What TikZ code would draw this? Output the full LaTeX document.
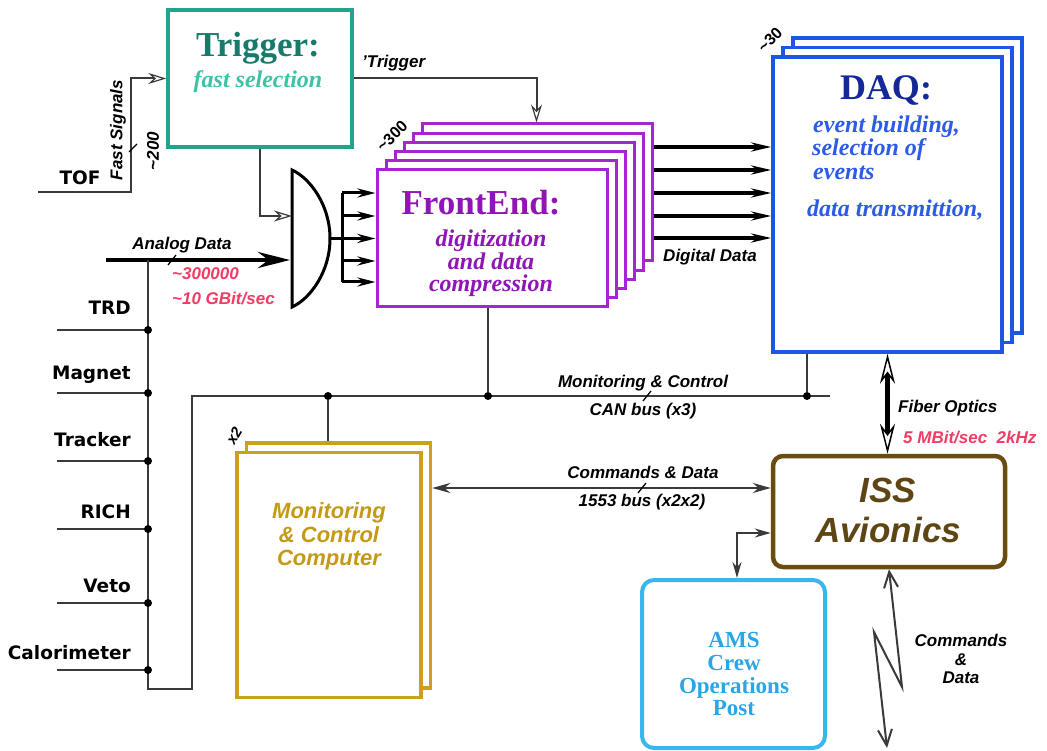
\documentclass[tikz,border=0pt]{standalone}
\usepackage{fontspec}
\setmainfont{Liberation Serif}
\setsansfont{Liberation Sans}
\newfontfamily\dejavu{DejaVu Sans}
\usetikzlibrary{arrows.meta,calc}
\newcommand\myfs[1]{\fontsize{#1}{#1}\selectfont}
\definecolor{tealbox}{HTML}{20A58C}
\definecolor{tealtitle}{HTML}{177A6B}
\definecolor{tealsub}{HTML}{3CC3A5}
\definecolor{purpbox}{HTML}{A526D0}
\definecolor{purptext}{HTML}{9015B5}
\definecolor{bluebox}{HTML}{1F55E6}
\definecolor{bluetitle}{HTML}{15289A}
\definecolor{bluesub}{HTML}{2C5CE6}
\definecolor{goldc}{HTML}{C9A21A}
\definecolor{goldtext}{HTML}{C49A14}
\definecolor{brownc}{HTML}{6A4B12}
\definecolor{browntext}{HTML}{5E4514}
\definecolor{lbluec}{HTML}{38B6F0}
\definecolor{lbluetext}{HTML}{2AA5E6}
\definecolor{redc}{HTML}{F03C64}
\definecolor{wirec}{HTML}{3A3A3A}
\begin{document}
\begin{tikzpicture}[x=1pt,y=-1pt,
  txt/.style={inner sep=0pt, anchor=base},
  lbl/.style={txt, font=\sffamily\bfseries\itshape\myfs{17}},
  redlbl/.style={lbl, text=redc, anchor=base west},
  det/.style={inner sep=0pt, anchor=base east, font=\dejavu\bfseries\myfs{18.5}},
  wire/.style={draw=wirec, line width=2pt},
  heavy/.style={draw=black, line width=3.5pt},
  dot/.style={circle, fill=black, inner sep=0pt, minimum size=8pt},
  tick/.style={draw=black, line width=1.3pt},
  openhead/.style={-{Stealth[length=18pt,width=11pt,fill=white,line width=1.2pt]}},
  fillhead/.style={-{Stealth[length=18pt,width=9pt]}},
  barb/.style={{Straight Barb[length=16pt,width=14pt]}-{Straight Barb[length=16pt,width=14pt]}},
  trigbox/.style={draw=tealbox, line width=3.5pt, fill=white, minimum width=184pt, minimum height=137pt, inner sep=0pt},
  febox/.style={draw=purpbox, line width=3pt, fill=white, minimum width=230pt, minimum height=137pt, inner sep=0pt},
  daqbox/.style={draw=bluebox, line width=3.5pt, fill=white, minimum width=229pt, minimum height=295pt, inner sep=0pt},
  mccbox/.style={draw=goldc, line width=3.5pt, fill=white, minimum width=184pt, minimum height=245pt, inner sep=0pt},
  issbox/.style={draw=brownc, line width=4.5pt, fill=white, rounded corners=10pt, minimum width=232pt, minimum height=111pt, inner sep=0pt},
  amsbox/.style={draw=lbluec, line width=4pt, fill=white, rounded corners=12pt, minimum width=183pt, minimum height=168pt, inner sep=0pt}
]
\useasboundingbox (0,0) rectangle (1047,751);

% ---------- Trigger ----------
\node[trigbox] (trig) at (260,78.5) {};
\node[txt, font=\rmfamily\bfseries\myfs{35}, text=tealtitle] (trigT) at (258,57) {Trigger:};
\node[txt, font=\rmfamily\bfseries\itshape\myfs{24}, text=tealsub] (trigS) at (258,88) {fast selection};

% ---------- FrontEnd stack ----------
\foreach \k in {5,4,3,2,1} { \node[febox] (fe\k) at ({492+9*\k},{238.5-9.2*\k}) {}; }
\node[febox] (fe) at (492,238.5) {};
\node[txt, font=\rmfamily\bfseries\myfs{35}, text=purptext] (feT) at (481,215) {FrontEnd:};
\node[txt, font=\rmfamily\bfseries\itshape\myfs{24}, text=purptext] (feS1) at (491,247) {digitization};
\node[txt, font=\rmfamily\bfseries\itshape\myfs{24}, text=purptext] (feS2) at (491,270) {and data};
\node[txt, font=\rmfamily\bfseries\itshape\myfs{24}, text=purptext] (feS3) at (491,292) {compression};
\node[lbl, anchor=center, rotate=45, font=\sffamily\bfseries\myfs{16}] (fen) at (392,136) {\textasciitilde300};

% ---------- DAQ stack ----------
\foreach \k in {2,1} { \node[daqbox] (daq\k) at ({887.5+10*\k},{204.5-9.5*\k}) {}; }
\node[daqbox] (daq) at (887.5,204.5) {};
\node[txt, font=\rmfamily\bfseries\myfs{36}, text=bluetitle] (daqT) at (886,100) {DAQ:};
\node[txt, anchor=base west, font=\rmfamily\bfseries\itshape\myfs{24}, text=bluesub] (daqS1) at (813,133) {event building,};
\node[txt, anchor=base west, font=\rmfamily\bfseries\itshape\myfs{24}, text=bluesub] (daqS2) at (812,156) {selection of};
\node[txt, anchor=base west, font=\rmfamily\bfseries\itshape\myfs{24}, text=bluesub] (daqS3) at (813,180) {events};
\node[txt, anchor=base west, font=\rmfamily\bfseries\itshape\myfs{24}, text=bluesub] (daqS4) at (807,217) {data transmittion,};
\node[lbl, anchor=center, rotate=45, font=\sffamily\bfseries\myfs{16}] (daqn) at (770,40) {\textasciitilde30};

% ---------- MCC ----------
\node[mccbox] (mccb) at (338.5,565.5) {};
\node[mccbox] (mcc) at (329,575) {};
\node[txt, font=\sffamily\bfseries\itshape\myfs{22}, text=goldtext] (mccT1) at (329,518) {Monitoring};
\node[txt, font=\sffamily\bfseries\itshape\myfs{22}, text=goldtext] (mccT2) at (329,542) {\& Control};
\node[txt, font=\sffamily\bfseries\itshape\myfs{22}, text=goldtext] (mccT3) at (329,565) {Computer};
\node[lbl, anchor=center, rotate=60, font=\sffamily\bfseries\itshape\myfs{15}] (mccn) at (234,436) {x2};

% ---------- ISS ----------
\node[issbox] (iss) at (889,511.5) {};
\node[txt, font=\sffamily\bfseries\itshape\myfs{35}, text=browntext] (issT1) at (888,502) {ISS};
\node[txt, font=\sffamily\bfseries\itshape\myfs{35}, text=browntext] (issT2) at (888,542) {Avionics};

% ---------- AMS ----------
\node[amsbox] (ams) at (733.5,664) {};
\node[txt, font=\rmfamily\bfseries\myfs{23}, text=lbluetext] (amsT1) at (734,647) {AMS};
\node[txt, font=\rmfamily\bfseries\myfs{23}, text=lbluetext] (amsT2) at (734,670) {Crew};
\node[txt, font=\rmfamily\bfseries\myfs{23}, text=lbluetext] (amsT3) at (734,693) {Operations};
\node[txt, font=\rmfamily\bfseries\myfs{23}, text=lbluetext] (amsT4) at (734,715) {Post};

% ---------- Gate ----------
\draw[draw=black, line width=3pt, fill=white] (292,170) .. controls (310,178) and (330,205) .. (330,238.5) .. controls (330,272) and (310,299) .. (292,307) -- cycle;
\coordinate (gin) at (292,216);
\coordinate (gout) at (330,238.5);
\coordinate (gan) at (290,260);
\coordinate (gbus) at (342,238.5);

% ---------- TOF / fast signals ----------
\coordinate (tofL) at (38,192);
\draw[wire, openhead] (tofL) -| ($(trig.west)+(-35,0)$) -- (trig.west);
\node[det, anchor=base] (tof) at (80,185) {TOF};
\node[lbl, anchor=center, rotate=90] (fast) at (118,130) {Fast Signals};
\node[lbl, anchor=center, rotate=90] (n200) at (153,151) {\textasciitilde200};
\draw[tick] (129,152) -- (137,144);

% trigger outputs
\draw[wire, openhead] (trig.east) -| ($(fe5.north west)+(116,0)$);
\node[lbl, anchor=base west] (trigL) at (362,68) {'Trigger};
\draw[wire, openhead] (trig.south) |- (gin);

% gate to FrontEnd
\draw[heavy, line width=3pt] (gout) -- (gbus);
\draw[heavy, line width=3pt] (342,193) -- (342,282);
\foreach \yy in {193,216,238.5,261,282} {
  \draw[heavy, line width=3pt, fillhead] (342,\yy) -- (fe.west |- 0,\yy);
}

% digital data
\foreach \yy in {147,170,193,216,238} {
  \draw[heavy, -{Stealth[length=20pt,width=9pt]}] (fe5.east |- 0,\yy) -- (daq.west |- 0,\yy);
}
\node[lbl] (digL) at (710,262) {Digital Data};

% analog data
\coordinate (anL) at (106,260);
\draw[heavy, line width=4pt, -{Stealth[length=32pt,width=16pt]}] (anL) -- (gan);
\node[lbl] (anaL) at (182,250) {Analog Data};
\draw[tick] (168,265) -- (176,255);
\node[redlbl] (r1) at (172,280) {\textasciitilde300000};
\node[redlbl] (r2) at (172,305) {\textasciitilde10 GBit/sec};

% detector bus
\coordinate (busTop) at (148,260);
\coordinate (busBot) at (148,689);
\coordinate (busCorner) at (192,689);
\coordinate (monL) at (192,396);
\coordinate (monR) at (830,396);
\draw[wire] (busTop) -- (busBot) -- (busCorner) -- (monL) -- (monR);
\foreach \nm/\ly/\ty in {TRD/330/315, Magnet/393/379, Tracker/461/446, RICH/529/518, Veto/603/592, Calorimeter/670/659} {
  \draw[wire] (57,\ly) -- (148,\ly);
  \node[dot] (dot\nm) at (148,\ly) {};
  \node[det] (lab\nm) at (131,\ty) {\nm};
}

% monitoring bus taps
\node[dot] (tapMCC) at (328,396) {};
\node[dot] (tapFE) at (488,396) {};
\node[dot] (tapDAQ) at (807,396) {};
\draw[wire] (tapFE) -- (tapFE |- fe.south);
\draw[wire] (tapMCC) -- (tapMCC |- mccb.north);
\draw[wire] (tapDAQ) -- (tapDAQ |- daq.south);
\node[lbl] (monT) at (643,388) {Monitoring \& Control};
\node[lbl] (canT) at (643,415) {CAN bus (x3)};
\draw[tick] (643,401) -- (651,391);

% commands & data bus
\draw[wire, {Stealth[length=18pt,width=10pt]}-{Stealth[length=18pt,width=10pt]}] (mccb.east |- 0,488) -- (iss.west |- 0,488);
\node[lbl] (cmdT) at (643,478) {Commands \& Data};
\node[lbl] (busT) at (642,506) {1553 bus (x2x2)};
\draw[tick] (638,493) -- (646,483);

% ISS <-> AMS
\draw[wire, {Stealth[length=16pt,width=9pt]}-{Stealth[length=16pt,width=9pt]}] (ams.north -| 737,0) |- (iss.west |- 0,533);

% fiber optics
\draw[draw=black, line width=5pt, {Stealth[length=30pt,width=15pt,fill=white,line width=1.5pt]}-{Stealth[length=30pt,width=15pt,fill=white,line width=1.5pt]}] (daq.south) -- (daq.south |- iss.north);
\node[lbl, anchor=base west] (fibT) at (898,412) {Fiber Optics};
\node[redlbl] (fibR) at (903,443) {5 MBit/sec\ \ 2kHz};

% radio link
\coordinate (z1) at (902,687);
\coordinate (z2) at (874,632);
\coordinate (zEnd) at (887,748);
\draw[wire, barb] (iss.south) -- (z1) -- (z2) -- (zEnd);
\node[lbl] (radT1) at (961,646) {Commands};
\node[lbl] (radT2) at (961,665) {\&};
\node[lbl] (radT3) at (961,683) {Data};
\end{tikzpicture}
\end{document}
